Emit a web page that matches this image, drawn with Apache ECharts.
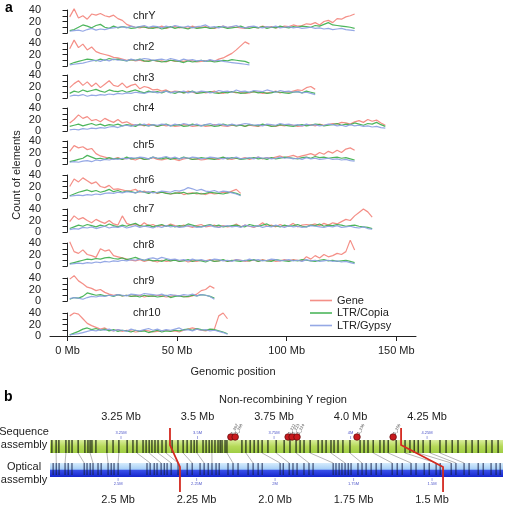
<!DOCTYPE html>
<html><head><meta charset="utf-8">
<script src="https://cdn.jsdelivr.net/npm/echarts@6/dist/echarts.min.js"></script>
<style>html,body{margin:0;padding:0;background:#fff}#c{width:517px;height:506px}</style>
</head><body><div id="c"></div>
<script>
// ---------- Panel a data (2 Mb bins, counts per bin) ----------
const BIN = 2;
const chromNames = ['chrY','chr2','chr3','chr4','chr5','chr6','chr7','chr8','chr9','chr10'];
const typeNames = ['Gene','LTR/Copia','LTR/Gypsy'];
const xTicks = [0, 50, 100, 150];

const geneY = [28,42,26,30,24,33,31,34,30,28,31,25,22,15,12,10,9,11,8,10,9,12,8,10,11,9,10,8,12,9,10,11,9,8,10,12,9,11,10,9,8,11,10,9,12,10,11,9,10,12,11,14,12,13,16,15,18,14,20,22,18,25,24,28,30,33];
const copiaY = [4,6,10,14,12,9,13,15,10,8,12,9,11,10,8,9,11,10,9,8,10,7,9,11,8,10,9,7,10,8,9,10,8,9,11,10,8,9,10,12,9,8,10,9,11,8,10,9,12,10,9,11,10,12,11,10,13,12,15,18,14,13,12,11,10,8];
const gypsyY = [3,4,5,3,6,8,5,7,6,8,9,10,11,9,12,10,11,13,10,12,11,9,12,10,13,11,10,12,9,11,12,14,10,11,9,12,10,11,13,10,9,11,12,10,9,11,10,12,9,10,11,9,10,8,9,10,8,9,7,8,6,7,8,6,5,4];

const gene2 = [30,45,32,38,28,33,25,22,20,18,15,14,12,10,11,9,10,8,9,10,8,9,7,10,8,9,8,10,9,7,8,9,10,8,12,14,18,22,28,35,42,38];
const copia2 = [3,6,8,10,12,11,9,12,10,13,11,12,10,9,11,10,12,9,8,10,9,7,8,10,9,8,6,9,7,8,10,8,9,7,8,10,9,11,10,9,8,5];
const gypsy2 = [2,3,4,5,7,9,10,8,11,9,12,10,11,9,12,10,11,13,12,10,11,12,10,13,11,9,12,10,11,9,10,8,11,9,10,8,7,6,5,4,3,2];

const gene3 = [18,25,30,22,28,20,26,18,24,30,22,20,26,18,22,24,16,20,18,14,15,12,14,10,12,11,9,12,10,8,11,9,10,12,9,8,10,11,9,10,8,9,11,10,8,9,10,12,9,11,10,12,14,13,18,20,15];
const copia3 = [8,12,10,14,11,13,15,12,10,14,12,11,13,10,12,14,11,9,12,10,11,9,12,10,8,11,9,10,12,8,9,10,11,9,8,10,9,11,10,8,9,10,11,9,10,8,9,11,10,9,8,10,11,9,12,10,8];
const gypsy3 = [3,5,4,6,3,5,4,6,5,7,6,8,7,9,8,10,9,8,10,11,9,10,12,9,11,10,12,9,11,10,12,11,9,10,13,11,12,10,14,11,12,10,13,12,11,14,12,10,13,11,12,10,11,9,10,8,6];

const gene4 = [14,20,28,22,25,18,20,16,22,18,15,20,14,16,12,10,11,9,12,10,8,11,9,10,8,9,11,10,8,9,10,8,9,11,10,9,8,10,9,11,8,10,9,8,10,11,9,8,10,9,11,10,8,9,10,11,9,12,10,11,13,12,15,14,12,16,18,15,20,17,19,14,10];
const copia4 = [8,10,12,9,11,13,10,12,9,11,10,12,9,11,10,8,12,10,9,11,8,10,12,9,10,11,8,9,12,10,9,11,10,8,9,12,10,11,9,10,8,11,10,9,12,10,8,9,11,10,9,8,10,11,9,10,12,11,9,10,11,13,10,12,11,14,12,10,13,12,15,11,8];
const gypsy4 = [2,3,2,4,3,5,4,6,5,7,8,6,9,10,8,11,10,12,9,11,10,12,11,9,12,10,13,11,10,12,9,11,13,10,12,11,9,12,10,11,13,12,10,11,9,12,11,10,13,11,12,10,11,9,12,10,11,9,10,12,11,9,10,8,11,9,10,8,9,7,8,6,5];

const gene5 = [22,32,28,30,25,27,18,14,12,10,9,11,8,10,9,7,10,8,9,11,8,7,9,10,8,6,9,10,8,9,7,8,10,9,8,11,9,8,10,9,11,8,10,12,9,11,10,12,14,11,13,15,12,14,16,18,15,20,17,22,19,24,20,26,28,24];
const copia5 = [4,6,8,10,15,12,9,10,8,11,9,10,8,12,9,10,11,8,9,12,10,9,11,8,10,9,12,10,8,9,11,10,9,8,10,12,9,11,10,8,9,10,11,9,10,8,11,9,10,12,11,10,9,11,12,10,13,11,12,10,11,12,10,11,9,7];
const gypsy5 = [3,4,3,5,6,4,7,6,8,7,9,8,10,9,11,10,12,11,9,12,10,11,13,10,12,9,11,10,12,11,9,10,12,11,10,9,11,10,12,9,10,11,9,12,10,11,9,10,12,10,11,9,10,8,11,9,10,8,9,10,8,9,7,8,6,5];

const gene6 = [20,33,28,35,30,25,28,20,18,22,15,16,14,12,13,15,10,12,9,11,8,10,9,7,8,10,6,8,9,7,8,6,9,7,8,10,9,12,15,8];
const copia6 = [4,7,10,12,14,11,13,10,12,15,11,13,10,12,11,9,12,10,8,11,9,10,8,7,9,8,10,7,8,9,7,8,10,9,8,7,9,10,8,5];
const gypsy6 = [3,4,5,4,6,5,7,6,8,9,8,10,9,11,10,9,12,10,11,9,10,12,11,10,13,12,14,18,16,13,15,12,11,13,10,12,11,9,7,4];

const gene7 = [18,28,22,25,20,16,22,18,15,20,14,12,28,15,12,14,10,16,11,13,9,12,10,14,11,9,12,10,8,11,13,9,10,12,8,11,9,10,14,9,12,10,8,11,16,10,12,9,13,10,11,15,9,12,13,12,14,11,15,12,16,14,18,22,20,28,34,40,35,26];
const copia7 = [6,9,12,10,13,11,9,12,10,14,11,9,12,10,13,15,11,10,12,9,11,13,10,12,9,11,10,14,12,10,9,11,13,10,12,9,10,11,12,10,9,13,11,10,12,14,10,11,9,12,10,11,13,10,9,12,11,14,10,12,11,13,12,10,11,12,10,9,8,6];
const gypsy7 = [4,6,5,8,7,9,6,8,10,7,9,8,10,7,9,11,8,10,9,7,10,8,11,9,10,8,9,11,10,8,9,10,12,9,8,10,11,9,10,8,12,10,9,11,8,10,9,12,10,8,11,9,10,8,9,11,10,9,8,10,9,11,8,9,10,8,7,9,6,5];

const gene8 = [42,25,22,28,20,18,15,30,26,28,18,16,14,12,10,9,11,8,10,9,7,10,8,9,11,8,10,7,9,8,10,9,11,8,9,10,8,9,11,10,8,9,10,8,11,9,10,8,9,11,9,11,10,9,16,12,18,14,20,16,18,22,20,25,45,28];
const copia8 = [4,6,8,10,12,11,13,12,14,15,13,12,14,11,13,15,12,10,11,9,10,8,11,9,10,8,9,11,8,10,9,7,10,8,9,11,8,10,9,8,10,9,11,8,10,9,8,11,10,9,8,10,9,11,10,9,8,10,11,9,10,8,9,10,8,6];
const gypsy8 = [3,4,5,4,6,5,7,6,8,7,9,8,10,9,11,10,12,10,13,14,12,15,13,11,12,10,11,9,12,10,11,9,10,12,11,9,10,8,11,10,9,12,10,11,9,10,12,11,9,10,11,9,10,8,11,9,10,8,9,10,8,9,7,8,6,4];

const gene9 = [38,44,35,30,24,22,18,20,15,12,10,11,9,10,8,9,10,7,9,8,10,9,7,8,10,9,8,7,9,12,18,20,26,22];
const copia9 = [3,6,5,8,14,12,10,11,9,10,8,11,9,10,8,9,7,10,8,9,7,8,10,6,8,9,7,8,10,9,11,10,8,5];
const gypsy9 = [4,6,5,3,6,8,7,9,8,10,9,11,10,9,12,11,10,13,12,11,10,12,9,11,10,9,11,10,12,9,11,10,8,3];

const gene10 = [35,40,38,30,22,18,15,12,14,10,9,11,8,10,9,7,8,10,9,7,8,9,10,8,9,7,10,12,14,12,10,9,11,12,35,40,30];
const copia10 = [2,5,8,12,14,11,13,10,12,9,11,8,10,9,7,10,8,9,6,8,10,7,9,8,10,9,11,12,10,13,11,10,12,11,9,7,4];
const gypsy10 = [2,3,4,6,8,10,9,11,10,12,9,11,10,8,12,10,9,11,13,10,12,9,11,10,12,14,10,11,9,12,10,11,9,10,8,6,3];

const seriesByChrom = [
  [geneY, copiaY, gypsyY], [gene2, copia2, gypsy2], [gene3, copia3, gypsy3],
  [gene4, copia4, gypsy4], [gene5, copia5, gypsy5], [gene6, copia6, gypsy6],
  [gene7, copia7, gypsy7], [gene8, copia8, gypsy8], [gene9, copia9, gypsy9],
  [gene10, copia10, gypsy10]
];

// ---------- Panel b data (Mb) ----------
const seqRange = [3.018, 4.498];
const optRange = [1.274, 2.717];
const seqTicks = [3.25, 3.5, 3.75, 4.0, 4.25];
const optTicks = [2.5, 2.25, 2.0, 1.75, 1.5];
const seqMarks = [3.024,3.038,3.047,3.070,3.080,3.090,3.110,3.132,3.142,3.149,3.155,3.168,3.204,3.224,3.243,3.270,3.289,3.302,3.322,3.332,3.342,3.351,3.361,3.371,3.384,3.397,3.417,3.436,3.453,3.466,3.479,3.489,3.498,3.518,3.528,3.538,3.547,3.557,3.567,3.574,3.580,3.590,3.596,3.645,3.658,3.672,3.685,3.698,3.711,3.730,3.757,3.783,3.802,3.822,3.835,3.848,3.868,3.894,3.907,3.920,3.936,3.946,3.959,3.975,3.998,4.031,4.044,4.057,4.074,4.096,4.109,4.123,4.149,4.178,4.194,4.208,4.221,4.237,4.260,4.292,4.312,4.332,4.351,4.377,4.397,4.417,4.443,4.462,4.482];
const optMarks = [2.707,2.697,2.688,2.669,2.659,2.647,2.608,2.599,2.589,2.580,2.564,2.554,2.532,2.522,2.513,2.500,2.462,2.408,2.398,2.385,2.376,2.363,2.353,2.344,2.331,2.309,2.280,2.264,2.239,2.226,2.213,2.201,2.188,2.178,2.150,2.134,2.118,2.086,2.070,2.054,2.041,1.984,1.974,1.955,1.943,1.930,1.908,1.892,1.879,1.815,1.806,1.796,1.787,1.777,1.767,1.758,1.736,1.723,1.710,1.694,1.678,1.662,1.627,1.611,1.595,1.567,1.551,1.525,1.509,1.487,1.474,1.439,1.424,1.398,1.382,1.353,1.337,1.312,1.296,1.283];
const linkSeq = [3.038,3.070,3.110,3.149,3.204,3.243,3.302,3.342,3.371,3.397,3.453,3.498,3.547,3.596,3.658,3.711,3.757,3.822,3.868,3.936,3.998,4.074,4.123,4.178,4.221,4.260,4.292];
const linkOpt = [2.697,2.669,2.608,2.580,2.532,2.500,2.398,2.363,2.331,2.309,2.264,2.226,2.201,2.134,2.070,1.984,1.955,1.892,1.815,1.777,1.723,1.627,1.567,1.487,1.439,1.424,1.398];
const breakSeq = [3.410, 4.165];
const breakOpt = [2.303, 1.465];
const knobSeq = [3.609, 3.623, 3.796, 3.809, 3.825, 4.021, 4.139];
const knobLabels = ['1_207','1_208','1_222','1_223','1_224','1_230','1_250'];

// ---------- layout ----------
const FONT = 'Liberation Sans, Arial, Helvetica, sans-serif';
const colors = ['#f3837a', '#3aae4a', '#8a9fe2'];
const zeroY = [33, 66, 98, 131, 164, 198, 232, 266, 301, 336];
const labelY = [16, 47, 78, 108, 145, 180, 209, 245, 281, 313];
const PH = 23;

const chart = echarts.init(document.getElementById('c'), null, {renderer: 'canvas', width: 517, height: 506});

const grids = [], xAxes = [], yAxes = [], series = [];
zeroY.forEach((z, k) => {
  grids.push({left: 50, width: 366, top: z - PH, height: PH, outerBoundsMode: 'none', containLabel: false});
  const last = k === zeroY.length - 1;
  xAxes.push({
    gridIndex: k, type: 'value', min: -8, max: 159, show: last,
    axisLine: {show: true, onZero: false, lineStyle: {color: '#222', width: 1}},
    axisTick: {show: true, length: 5, customValues: xTicks, lineStyle: {color: '#222'}},
    axisLabel: {customValues: xTicks, formatter: v => v + ' Mb', fontSize: 11, color: '#222', fontFamily: FONT, margin: 9},
    splitLine: {show: false},
    name: last ? 'Genomic position' : '', nameLocation: 'middle', nameGap: 30,
    nameTextStyle: {fontSize: 11, color: '#222', fontFamily: FONT}
  });
  yAxes.push({
    gridIndex: k, type: 'value', min: 0, max: 40, interval: 10,
    axisLine: {show: true, lineStyle: {color: '#222', width: 1}},
    axisTick: {show: true, length: 5, lineStyle: {color: '#222'}},
    axisLabel: {formatter: v => (v % 20 === 0 ? String(v) : ''), fontSize: 11, color: '#222', fontFamily: FONT, margin: 9},
    splitLine: {show: false}
  });
  seriesByChrom[k].forEach((arr, t) => {
    series.push({
      type: 'line', name: typeNames[t], xAxisIndex: k, yAxisIndex: k,
      data: arr.map((v, i) => [(i + 0.5) * BIN, v]),
      symbol: 'none', showSymbol: false, clip: false, silent: true,
      lineStyle: {color: colors[t], width: 1.2, opacity: 0.9},
      itemStyle: {color: colors[t]}, z: 2 + t
    });
  });
});

// panel b grid
const GB = 10;
grids.push({left: 50, width: 453, top: 428, height: 64, outerBoundsMode: 'none', containLabel: false});
xAxes.push({
  gridIndex: GB, type: 'value', position: 'top', min: seqRange[0], max: seqRange[1],
  axisLine: {show: false}, axisTick: {show: false}, splitLine: {show: false},
  axisLabel: {customValues: seqTicks, formatter: v => (v % 1 === 0 ? v.toFixed(1) : v) + ' Mb', fontSize: 11, color: '#222', fontFamily: FONT, margin: 6}
});
xAxes.push({
  gridIndex: GB, type: 'value', position: 'bottom', inverse: true, min: optRange[0], max: optRange[1],
  axisLine: {show: false}, axisTick: {show: false}, splitLine: {show: false},
  axisLabel: {customValues: optTicks, formatter: v => (v % 1 === 0 ? v.toFixed(1) : v) + ' Mb', fontSize: 11, color: '#222', fontFamily: FONT, margin: 2}
});
yAxes.push({gridIndex: GB, type: 'value', min: 0, max: 64, inverse: true, show: false});
const SEQX = 10, OPTX = 11, BY = 10;
const L = {seqTop: 12, seqBot: 25, optTop: 35, optBot: 49};

function optPx(v) { return chart.convertToPixel({xAxisIndex: OPTX}, v); }

series.push({
  type: 'custom', xAxisIndex: SEQX, yAxisIndex: BY, silent: true, z: 1,
  data: [seqRange],
  renderItem: (p, api) => {
    const a = api.coord([api.value(0), L.seqTop]), b = api.coord([api.value(1), L.seqBot]);
    return {type: 'rect', shape: {x: a[0], y: a[1], width: b[0] - a[0], height: b[1] - a[1]},
      style: {fill: new echarts.graphic.LinearGradient(0, 0, 0, 1, [
        {offset: 0, color: '#d9ee9c'}, {offset: 0.5, color: '#b5d958'}, {offset: 1, color: '#9fcd44'}])}};
  }
});
series.push({
  type: 'custom', xAxisIndex: OPTX, yAxisIndex: BY, silent: true, z: 1,
  data: [[optRange[1], optRange[0]]],
  renderItem: (p, api) => {
    const a = api.coord([api.value(0), L.optTop]), b = api.coord([api.value(1), L.optBot]);
    const x0 = Math.min(a[0], b[0]), w = Math.abs(b[0] - a[0]);
    return {type: 'rect', shape: {x: x0, y: a[1], width: w, height: b[1] - a[1]},
      style: {fill: new echarts.graphic.LinearGradient(0, 0, 0, 1, [
        {offset: 0, color: '#d6ebfc'}, {offset: 0.45, color: '#a6cff6'}, {offset: 0.5, color: '#3a52ea'}, {offset: 1, color: '#1424cc'}])}};
  }
});
series.push({
  type: 'custom', xAxisIndex: SEQX, yAxisIndex: BY, silent: true, z: 2,
  data: seqMarks.map(v => [v, 0]),
  renderItem: (p, api) => {
    const a = api.coord([api.value(0), L.seqTop]), b = api.coord([api.value(0), L.seqBot]);
    return {type: 'rect', shape: {x: a[0] - 0.75, y: a[1], width: 1.5, height: b[1] - a[1]}, style: {fill: 'rgba(30,40,22,0.8)'}};
  }
});
series.push({
  type: 'custom', xAxisIndex: OPTX, yAxisIndex: BY, silent: true, z: 2,
  data: optMarks.map(v => [v, 0]),
  renderItem: (p, api) => {
    const a = api.coord([api.value(0), L.optTop]), b = api.coord([api.value(0), L.optBot - 2]);
    return {type: 'rect', shape: {x: a[0] - 0.65, y: a[1], width: 1.3, height: b[1] - a[1]}, style: {fill: 'rgba(20,30,70,0.7)'}};
  }
});
series.push({
  type: 'custom', xAxisIndex: SEQX, yAxisIndex: BY, silent: true, z: 3,
  data: seqTicks.map(v => [v, 0]),
  renderItem: (p, api) => {
    const v = api.value(0), a = api.coord([v, 5]), t = api.coord([v, 8]), b = api.coord([v, 11]);
    return {type: 'group', children: [
      {type: 'text', style: {text: v + 'M', x: a[0], y: a[1], align: 'center', verticalAlign: 'middle', fontSize: 4, fill: '#4a52c8', fontFamily: FONT}},
      {type: 'line', shape: {x1: t[0], y1: t[1], x2: b[0], y2: b[1]}, style: {stroke: '#6a70d0', lineWidth: 0.6}}]};
  }
});
series.push({
  type: 'custom', xAxisIndex: OPTX, yAxisIndex: BY, silent: true, z: 3,
  data: optTicks.map(v => [v, 0]),
  renderItem: (p, api) => {
    const v = api.value(0), a = api.coord([v, 56]), t = api.coord([v, 50]), b = api.coord([v, 53]);
    return {type: 'group', children: [
      {type: 'text', style: {text: v + 'M', x: a[0], y: a[1], align: 'center', verticalAlign: 'middle', fontSize: 4, fill: '#4a52c8', fontFamily: FONT}},
      {type: 'line', shape: {x1: t[0], y1: t[1], x2: b[0], y2: b[1]}, style: {stroke: '#6a70d0', lineWidth: 0.6}}]};
  }
});
series.push({
  type: 'custom', xAxisIndex: SEQX, yAxisIndex: BY, silent: true, z: 2,
  data: linkSeq.map((s, i) => [s, linkOpt[i]]),
  renderItem: (p, api) => {
    const a = api.coord([api.value(0), L.seqBot]);
    const b = api.coord([api.value(0), L.optTop]);
    const xo = optPx(api.value(1));
    return {type: 'line', shape: {x1: a[0], y1: a[1], x2: xo, y2: b[1]}, style: {stroke: 'rgba(135,135,135,0.6)', lineWidth: 1}};
  }
});
series.push({
  type: 'custom', xAxisIndex: SEQX, yAxisIndex: BY, silent: true, z: 5,
  data: breakSeq.map((s, i) => [s, breakOpt[i]]),
  renderItem: (p, api) => {
    const s0 = api.coord([api.value(0), 0]), s1 = api.coord([api.value(0), 17]);
    const o0 = api.coord([api.value(0), 39]), o1 = api.coord([api.value(0), 64]);
    const xo = optPx(api.value(1));
    return {type: 'polyline', shape: {points: [[s0[0], s0[1]], [s1[0], s1[1]], [xo, o0[1]], [xo, o1[1]]]},
      style: {stroke: '#d42a20', lineWidth: 1.8, fill: null}};
  }
});
series.push({
  type: 'custom', xAxisIndex: SEQX, yAxisIndex: BY, silent: true, z: 6,
  data: knobSeq.map((s, i) => [s, i]),
  renderItem: (p, api) => {
    const c = api.coord([api.value(0), 9]);
    return {type: 'group', children: [
      {type: 'circle', shape: {cx: c[0], cy: c[1], r: 3.3}, style: {fill: '#c81a1e', stroke: '#5a0808', lineWidth: 0.7}},
      {type: 'text', rotation: Math.PI / 3, x: c[0] + 1, y: c[1] - 3,
        style: {text: knobLabels[api.value(1)], x: 0, y: 0, align: 'left', verticalAlign: 'middle', fontSize: 4, fill: '#333', fontFamily: FONT}}]};
  }
});

const txt = (text, x, y, extra) => Object.assign({type: 'text', x, y, silent: true,
  style: Object.assign({text, fontSize: 11, fill: '#222', fontFamily: FONT, align: 'left', verticalAlign: 'middle'}, extra || {})});
const graphics = [
  txt('a', 5, 8, {fontSize: 14, fontWeight: 'bold', fill: '#000'}),
  txt('b', 4, 397, {fontSize: 14, fontWeight: 'bold', fill: '#000'}),
  {type: 'text', x: 17, y: 175, rotation: Math.PI / 2, silent: true,
   style: {text: 'Count of elements', fontSize: 11, fill: '#222', fontFamily: FONT, align: 'center', verticalAlign: 'middle'}},
  txt('Non-recombining Y region', 283, 400, {align: 'center'}),
  txt('Sequence', 24, 432, {align: 'center'}),
  txt('assembly', 24, 445, {align: 'center'}),
  txt('Optical', 24, 467, {align: 'center'}),
  txt('assembly', 24, 480, {align: 'center'})
];
chromNames.forEach((n, k) => graphics.push(txt(n, 133, labelY[k])));

chart.setOption({
  animation: false,
  backgroundColor: '#fff',
  textStyle: {fontFamily: FONT},
  grid: grids, xAxis: xAxes, yAxis: yAxes, series,
  legend: {
    data: typeNames, orient: 'vertical', left: 305, top: 290, itemGap: 1.5,
    icon: 'rect', itemWidth: 22, itemHeight: 1.6, itemStyle: {opacity: 0.9},
    textStyle: {fontSize: 11, color: '#222', fontFamily: FONT}, selectedMode: false
  },
  graphic: graphics
});
</script></body></html>
